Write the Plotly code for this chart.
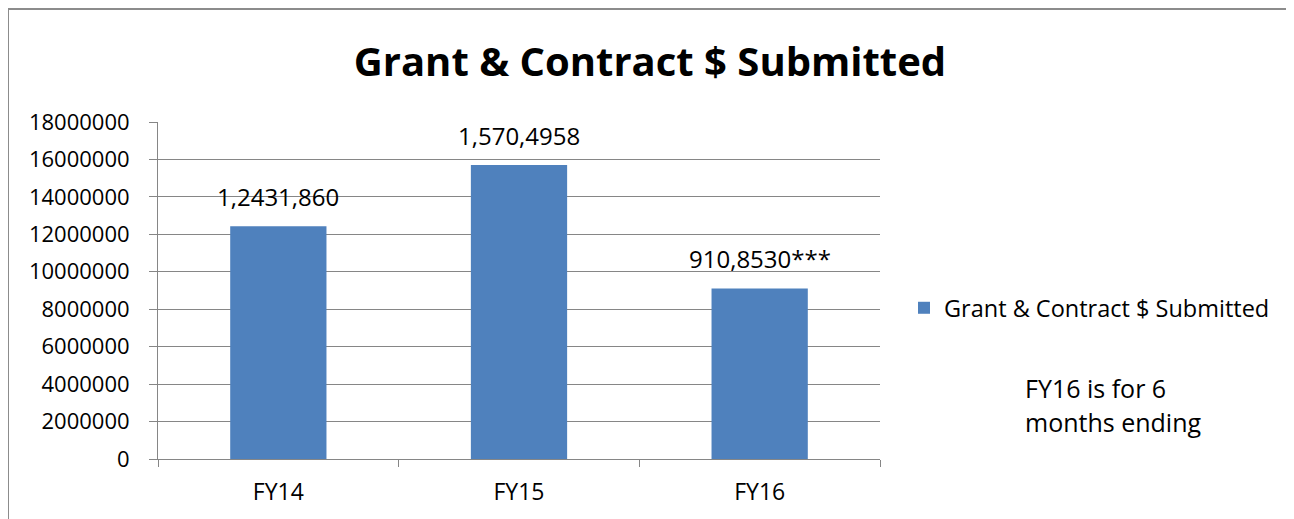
import plotly.graph_objects as go

# data
years = ["FY14", "FY15", "FY16"]
submitted = [12431860, 15704958, 9108530]
bar_labels = ["1,2431,860", "1,570,4958", "910,8530***"]
y_ticks = list(range(0, 18000001, 2000000))
note_lines = ["FY16 is for 6", "months ending"]

FONT = "Open Sans"
GRID = "#868686"
BAR = "#4F81BD"

W, H = 1294, 519
OFF = 8  # page body margin
L, R, T, B = 158 - OFF, 880 - OFF, 122 - OFF, 459 - OFF  # plot area in figure pixels


def px_x(p):
    return (p - OFF - L) / (R - L)


def px_y(p):
    return (B - (p - OFF)) / (B - T)


fig = go.Figure()
fig.add_trace(go.Bar(
    x=years, y=submitted, name="Grant & Contract $ Submitted",
    marker={"color": BAR, "line": {"width": 0}},
))

# data labels above each bar
for yr, v, lab in zip(years, submitted, bar_labels):
    fig.add_annotation(x=yr, y=v, text=lab, showarrow=False, yanchor="bottom",
                       yshift=11, font={"family": FONT, "size": 24, "color": "black"})

# footnote beside the legend
for i, line in enumerate(note_lines):
    fig.add_annotation(xref="paper", yref="paper", x=px_x(1023), y=px_y(388 + 34 * i),
                       xanchor="left", yanchor="middle", text=line, showarrow=False,
                       font={"family": FONT, "size": 25, "color": "black"})

# chart border
fig.add_shape(type="rect", xref="paper", yref="paper",
              x0=px_x(8), x1=px_x(1292), y0=px_y(560), y1=px_y(9),
              line={"color": "#8c8c8c", "width": 2}, layer="below")

fig.update_layout(
    width=W, height=H,
    margin={"l": L, "r": W - R, "t": T, "b": H - B, "pad": 0},
    paper_bgcolor="white", plot_bgcolor="white",
    bargap=0.6,
    font={"family": FONT, "color": "black"},
    title={"text": "<b>Grant & Contract $ Submitted</b>", "x": (650 - OFF) / W, "xanchor": "center",
           "xref": "container", "y": 1 - (62 - OFF) / H, "yanchor": "middle",
           "font": {"family": FONT, "size": 40, "color": "black"}},
    showlegend=True,
    legend={"x": px_x(904), "y": px_y(308), "xanchor": "left", "yanchor": "middle",
            "font": {"family": FONT, "size": 23.5, "color": "black"},
            "bgcolor": "rgba(0,0,0,0)", "itemwidth": 30},
)

fig.update_yaxes(
    range=[0, 18000000], tickvals=y_ticks, ticktext=[str(t) for t in y_ticks],
    showgrid=True, gridcolor=GRID, gridwidth=1,
    showline=True, linecolor=GRID, linewidth=1,
    ticks="outside", ticklen=8, tickcolor=GRID, ticklabelstandoff=15,
    tickfont={"family": FONT, "size": 22, "color": "black"},
    zeroline=False, fixedrange=True,
)
fig.update_xaxes(
    showline=True, linecolor=GRID, linewidth=1,
    ticks="outside", ticklen=7, tickcolor=GRID, tickson="boundaries",
    ticklabelstandoff=12,
    tickfont={"family": FONT, "size": 23, "color": "black"},
    showgrid=False,
)

fig.write_html("out.html")
